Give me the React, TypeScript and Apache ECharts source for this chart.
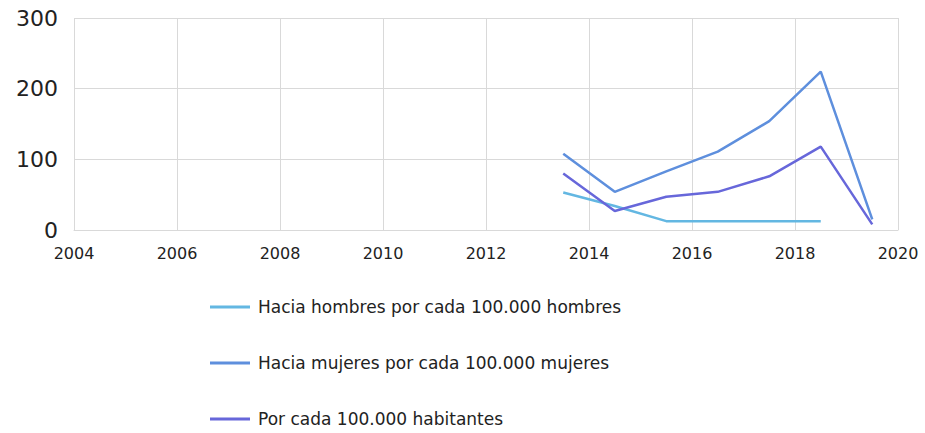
import React, { useEffect, useRef } from "react";
import * as echarts from "echarts";

const years = [2013.5, 2014.5, 2015.5, 2016.5, 2017.5, 2018.5, 2019.5];
const hombres = [53, 34, 12.5, 12.5, 12.5, 12.5, null];
const mujeres = [108, 54, 83, 111, 154, 224, 15];
const habitantes = [80, 27, 47, 54, 76, 118, 8];
const seriesNames = [
  "Hacia hombres por cada 100.000 hombres",
  "Hacia mujeres por cada 100.000 mujeres",
  "Por cada 100.000 habitantes",
];
const colors = ["#63B7E2", "#5E8FDD", "#6767DA"];

export default function App() {
  const ref = useRef<HTMLDivElement>(null);
  useEffect(() => {
    const chart = echarts.init(ref.current!, null, { renderer: "svg" });
    const mk = (vals: (number | null)[]) => years.map((y, i) => [y, vals[i]]);
    const datas = [mk(hombres), mk(mujeres), mk(habitantes)];
    chart.setOption({
      animation: false,
      grid: { left: 74, right: 27, top: 18, bottom: 203, containLabel: false },
      xAxis: {
        type: "value",
        min: 2004,
        max: 2020,
        interval: 2,
        axisLine: { show: true, lineStyle: { color: "#d9d9d9" } },
        axisTick: { show: false },
        splitLine: { show: true, lineStyle: { color: "#d9d9d9", width: 1 } },
        axisLabel: {
          color: "#222",
          fontSize: 16,
          fontFamily: "DejaVu Sans",
          margin: 15,
          formatter: (v: number) => String(v),
        },
      },
      yAxis: {
        type: "value",
        min: 0,
        max: 300,
        interval: 100,
        axisLine: { show: false },
        axisTick: { show: false },
        splitLine: { show: true, lineStyle: { color: "#d9d9d9", width: 1 } },
        axisLabel: { color: "#222", fontSize: 22, fontFamily: "DejaVu Sans", margin: 16 },
      },
      legend: {
        orient: "vertical",
        left: 205,
        top: 292,
        height: 140,
        itemWidth: 40,
        itemHeight: 3,
        itemGap: 36,
        icon: "rect",
        textStyle: { fontSize: 17, lineHeight: 20, color: "#222", fontFamily: "DejaVu Sans", padding: [0, 0, 0, 3] },
        data: seriesNames,
      },
      series: seriesNames.map((name, i) => ({
        name,
        type: "line",
        data: datas[i],
        showSymbol: false,
        symbol: "none",
        connectNulls: false,
        lineStyle: { color: colors[i], width: 2.5 },
        itemStyle: { color: colors[i] },
      })),
    });
    return () => chart.dispose();
  }, []);
  return (
    <div
      ref={ref}
      style={{ position: "absolute", left: 0, top: 0, width: 925, height: 433, background: "#fff" }}
    />
  );
}
